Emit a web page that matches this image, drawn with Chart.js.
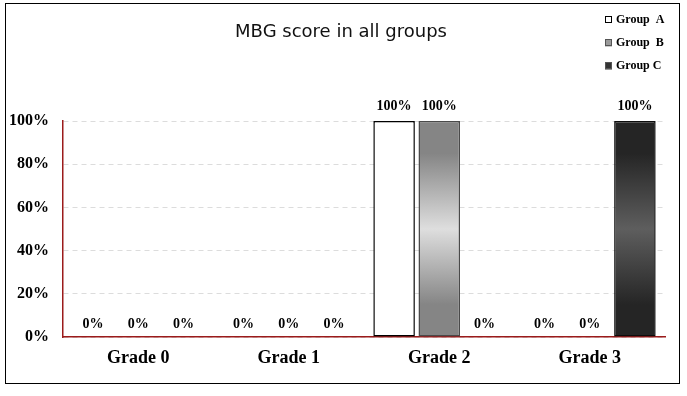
<!DOCTYPE html>
<html>
<head>
<meta charset="utf-8">
<script src="https://cdn.jsdelivr.net/npm/chart.js@4.4.1/dist/chart.umd.min.js"></script>
<style>
  html, body { margin: 0; padding: 0; background: #fff; }
  #box { position: absolute; left: 5px; top: 3px; width: 673px; height: 379px; border: 1px solid #000; }
  canvas { display: block; }
</style>
</head>
<body>
<div id="box"><canvas id="c" width="673" height="379"></canvas></div>
<script>
const categories = ["Grade 0", "Grade 1", "Grade 2", "Grade 3"];
const seriesNames = ["Group  A", "Group  B", "Group C"];
const groupA = [0, 0, 100, 0];
const groupB = [0, 0, 100, 0];
const groupC = [0, 0, 0, 100];
const yTicks = [0, 20, 40, 60, 80, 100];
const titleText = "MBG score in all groups";

const serif = "'Liberation Serif', 'Times New Roman', serif";

function grad(ctx, edge, mid) {
  const chart = ctx.chart;
  const a = chart.chartArea;
  if (!a) return edge;
  const g = chart.ctx.createLinearGradient(0, a.top, 0, a.bottom);
  g.addColorStop(0, edge);
  g.addColorStop(0.15, edge);
  g.addColorStop(0.5, mid);
  g.addColorStop(0.85, edge);
  g.addColorStop(1, edge);
  return g;
}

const fills = [
  c => grad(c, '#ffffff', '#ffffff'),
  c => grad(c, '#858585', '#dedede'),
  c => grad(c, '#252525', '#5e5e5e')
];
const borders = ['#000000', '#4a4a4a', '#0d0d0d'];
const legendSwatch = ['#ffffff', '#9a9a9a', '#333333'];

const overlay = {
  id: 'overlay',
  afterDatasetsDraw(chart) {
    const ctx = chart.ctx;
    ctx.save();
    ctx.fillStyle = '#000';
    ctx.font = "bold 14px " + serif;
    ctx.textAlign = 'center';
    ctx.textBaseline = 'bottom';
    chart.data.datasets.forEach((ds, di) => {
      const meta = chart.getDatasetMeta(di);
      meta.data.forEach((bar, i) => {
        const v = ds.data[i];
        ctx.fillText(v + '%', bar.x, bar.y - (v > 0 ? 8 : 6));
      });
    });
    ctx.restore();
  },
  afterDraw(chart) {
    const ctx = chart.ctx;
    ctx.save();
    // title
    ctx.fillStyle = '#111';
    ctx.font = "18px 'DejaVu Sans', sans-serif";
    ctx.textAlign = 'center';
    ctx.textBaseline = 'middle';
    ctx.fillText(titleText, 335, 28);
    // legend
    ctx.font = "bold 12px " + serif;
    ctx.textAlign = 'left';
    chart.data.datasets.forEach((ds, i) => {
      const y = 16 + i * 23;
      ctx.fillStyle = legendSwatch[i];
      ctx.fillRect(599, y - 3.5, 7, 7);
      ctx.strokeStyle = i === 0 ? '#000' : '#555';
      ctx.lineWidth = 1;
      ctx.strokeRect(599.5, y - 3.5, 6, 6);
      ctx.fillStyle = '#000';
      ctx.fillText(ds.label, 610, y);
    });
    ctx.restore();
  }
};

const datasets = [groupA, groupB, groupC].map((d, i) => ({
  label: seriesNames[i],
  data: d,
  backgroundColor: fills[i],
  borderColor: borders[i],
  borderWidth: c => (c.raw > 0 ? 1.5 : 0),
  borderSkipped: false,
  categoryPercentage: 0.9,
  barPercentage: 0.92
}));

new Chart(document.getElementById('c'), {
  type: 'bar',
  data: { labels: categories, datasets },
  options: {
    responsive: false,
    animation: false,
    layout: { padding: { top: 117, right: 14, left: 0, bottom: 0 } },
    plugins: { legend: { display: false }, title: { display: false }, tooltip: { enabled: false } },
    scales: {
      x: {
        grid: { display: false },
        border: { display: true, color: '#9b1b1b', width: 1.5 },
        ticks: { color: '#000', font: { family: serif, size: 18, weight: 'bold' }, padding: 3 },
        afterFit(s) { s.height = 46; }
      },
      y: {
        min: 0, max: 100,
        afterBuildTicks(s) { s.ticks = yTicks.map(v => ({ value: v })); },
        grid: { color: '#dcdcdc', drawTicks: false, lineWidth: 1 },
        border: { display: true, color: '#9b1b1b', width: 1.5, dash: [5, 4] },
        ticks: { color: '#000', font: { family: serif, size: 16, weight: 'bold' }, padding: 14, callback: v => v + '%' },
        afterFit(s) { s.width = 57; }
      }
    }
  },
  plugins: [overlay]
});
</script>
</body>
</html>
